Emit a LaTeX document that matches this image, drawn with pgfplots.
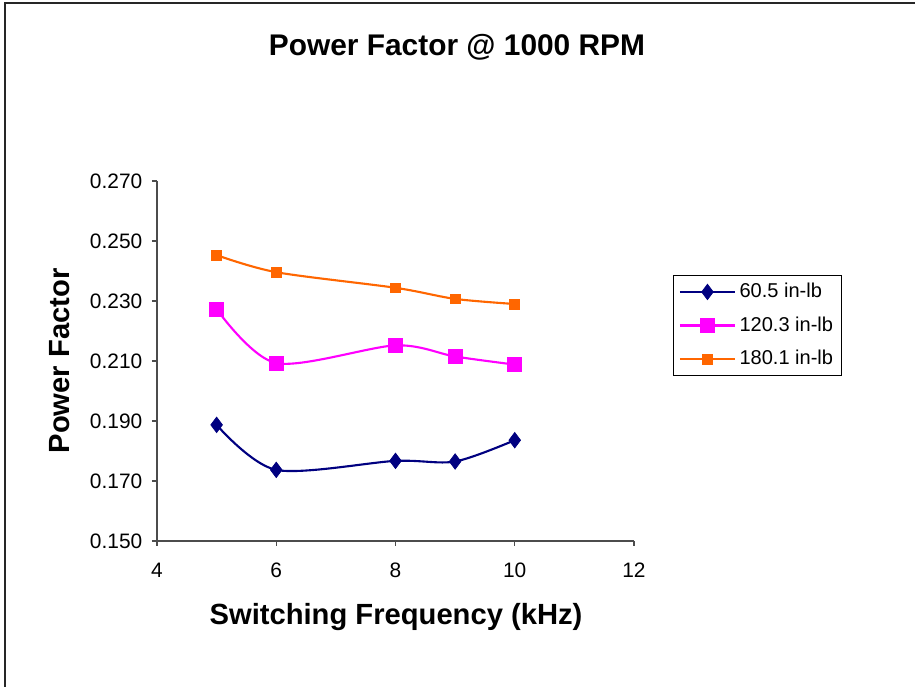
\documentclass[border=0pt]{standalone}
\usepackage{pgfplots}
\pgfplotsset{compat=1.18}
\usepackage{fontspec}
\setmainfont{Liberation Sans}
\definecolor{navy}{RGB}{0,0,128}
\definecolor{mag}{RGB}{255,0,255}
\definecolor{orng}{RGB}{255,102,0}
\begin{document}
\begin{tikzpicture}
\useasboundingbox (0,0) rectangle (18.3cm,13.74cm);
\draw[line width=0.6pt, black!85] (0.1cm,0) -- (0.1cm,13.68cm) -- (18.3cm,13.68cm);
\node[font=\bfseries\fontsize{17}{19}\selectfont] at (9.14cm,12.8cm) {Power Factor @ 1000 RPM};
\node[font=\bfseries\fontsize{16.6}{19}\selectfont] at (7.92cm,1.4cm) {Switching Frequency (kHz)};
\node[font=\bfseries\fontsize{16.6}{19}\selectfont, rotate=90] at (1.2cm,6.52cm) {Power Factor};
\begin{axis}[
  at={(3.14cm,2.92cm)}, anchor=south west,
  width=9.54cm, height=7.2cm, scale only axis,
  xmin=4, xmax=12, ymin=0.150, ymax=0.270,
  xtick={4,6,8,10,12},
  ytick={0.150,0.170,0.190,0.210,0.230,0.250,0.270},
  axis lines=left,
  axis line style={-, line width=0.6pt, black!70},
  tick style={black!70, line width=0.6pt},
  major tick length=0.1cm,
  tick align=outside,
  /pgf/number format/assume math mode=true,
  yticklabel style={xshift=-0.07cm, /pgf/number format/.cd, fixed, fixed zerofill, precision=3},
  xticklabel style={yshift=-0.22cm},
  ticklabel style={font=\fontsize{11.9}{13}\selectfont},
  legend style={at={(1.082,0.739)}, anchor=north west, draw=black, line width=0.6pt,
    font=\fontsize{11.4}{13}\selectfont, row sep=5.3pt, inner xsep=3pt, inner ysep=2.5pt,
    cells={anchor=west}},
  legend cell align=left,
  legend image code/.code={
    \draw[#1, mark repeat=2, mark phase=2] plot coordinates {(0cm,0cm) (0.55cm,0cm) (1.1cm,0cm)};
  },
]
\addplot[navy, line width=1.2pt, smooth, tension=0.5, mark=diamond*, mark size=4.4pt,
  mark options={solid, fill=navy, line width=0.4pt}]
  coordinates {(5,0.1887) (6,0.1737) (8,0.1767) (9,0.1765) (10,0.1836)};
\addlegendentry{60.5 in-lb}
\addplot[mag, line width=1.2pt, smooth, tension=0.5, mark=square*, mark size=4pt,
  mark options={solid, fill=mag, line width=0.4pt}]
  coordinates {(5,0.2273) (6,0.2093) (8,0.2152) (9,0.2115) (10,0.2088)};
\addlegendentry{120.3 in-lb}
\addplot[orng, line width=1.2pt, smooth, tension=0.5, mark=square*, mark size=2.8pt,
  mark options={solid, fill=orng, line width=0.4pt}]
  coordinates {(5,0.2453) (6,0.2396) (8,0.2344) (9,0.2307) (10,0.2290)};
\addlegendentry{180.1 in-lb}
\end{axis}
\end{tikzpicture}
\end{document}
